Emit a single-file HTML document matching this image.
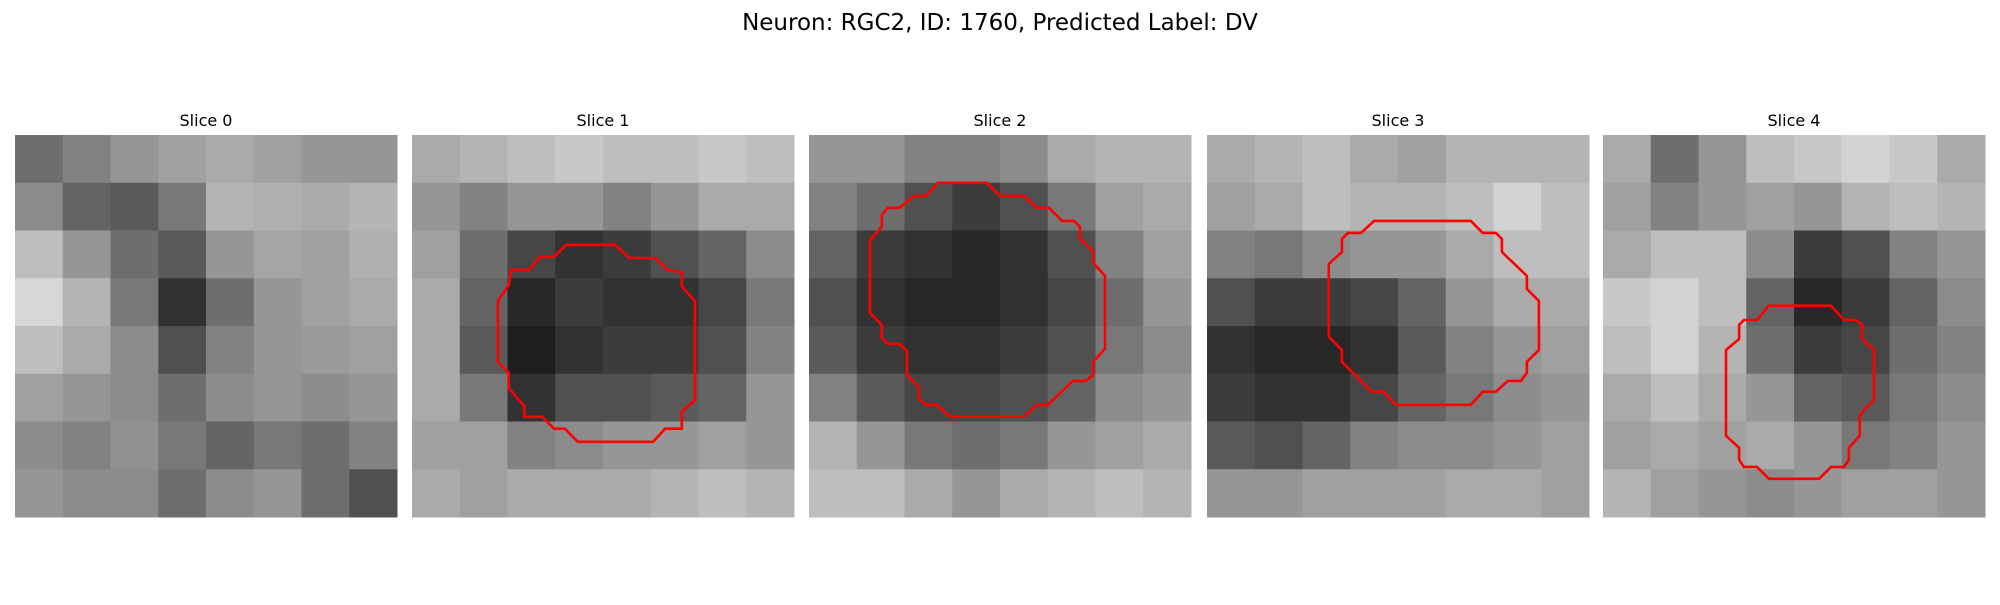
<!DOCTYPE html>
<html><head><meta charset="utf-8">
<style>
html,body{margin:0;padding:0;background:#fff;}
body{width:2000px;height:600px;overflow:hidden;font-family:"Liberation Sans","DejaVu Sans",sans-serif;}
</style></head>
<body>
<svg id="fig" width="2000" height="600" viewBox="0 0 2000 600" xmlns="http://www.w3.org/2000/svg">
<rect width="2000" height="600" fill="#fff"/>
<text x="1000" y="30" text-anchor="middle" font-family="DejaVu Sans, Liberation Sans, sans-serif" font-size="23" fill="#000">Neuron: RGC2, ID: 1760, Predicted Label: DV</text>
</svg>
<script>
const sliceTitles = ["Slice 0","Slice 1","Slice 2","Slice 3","Slice 4"];
const grid0 = [
[110,130,150,160,170,160,150,150],
[140,100,90,120,180,175,170,180],
[190,150,110,90,150,165,160,175],
[215,180,120,50,110,150,160,170],
[190,170,140,80,130,150,155,160],
[160,150,140,110,140,150,140,150],
[140,130,145,120,100,120,110,130],
[150,140,140,110,140,150,110,80]];
const grid1 = [
[170,180,190,200,190,190,200,190],
[150,130,150,150,130,150,170,170],
[160,110,70,50,60,80,100,140],
[170,100,40,60,50,50,70,120],
[170,90,30,50,60,60,80,130],
[170,120,50,80,80,90,100,150],
[160,160,130,140,150,150,160,150],
[170,160,170,170,170,180,190,180]];
const grid2 = [
[150,150,130,130,140,170,180,180],
[130,110,80,60,80,120,160,170],
[100,60,50,40,50,80,130,160],
[80,50,40,40,50,70,110,150],
[90,60,50,50,60,80,120,140],
[130,90,70,70,80,100,140,150],
[180,150,120,110,120,150,160,170],
[190,190,170,150,170,180,190,180]];
const grid3 = [
[170,180,190,170,160,180,180,180],
[160,170,190,180,180,190,210,190],
[130,120,140,150,150,170,190,190],
[80,60,60,70,100,150,170,170],
[50,40,40,50,90,130,150,160],
[60,50,50,70,100,120,140,150],
[90,80,100,130,140,140,150,160],
[150,150,160,160,160,170,170,160]];
const grid4 = [
[170,110,150,190,200,210,200,170],
[160,130,150,160,150,180,190,180],
[170,190,190,140,60,80,130,150],
[200,210,190,100,40,60,100,140],
[190,210,180,110,60,70,110,130],
[170,190,170,150,100,90,120,140],
[160,170,160,170,150,120,130,150],
[180,160,150,140,150,160,160,150]];
const grids = [grid0,grid1,grid2,grid3,grid4];
// contours in pixel (cell) units on a 32x32 image
const contour1 = [[7.2,13.9],[7.2,19],[8.1,19.9],[8.1,21.2],[9.4,22.7],[9.4,23.6],[10.9,23.6],[11.9,24.6],[12.8,24.6],[13.9,25.7],[20.2,25.7],[21.2,24.6],[22.6,24.6],[22.6,23.2],[23.7,22.2],[23.7,13.9],[22.6,12.7],[22.6,11.5],[21.4,11.3],[20.4,10.3],[18.2,10.3],[17,9.2],[12.9,9.2],[11.9,10.2],[10.7,10.2],[9.8,11.3],[8.3,11.3],[8.1,12.6]];
const contour2 = [[5.1,8.8],[5.1,14.9],[6.1,15.9],[6.1,17.0],[6.6,17.5],[7.6,17.5],[8.2,18.1],[8.2,20.1],[9.2,21.1],[9.2,22.1],[9.8,22.6],[10.7,22.6],[11.8,23.6],[18.0,23.6],[19.1,22.6],[20.0,22.6],[22.1,20.6],[23.2,20.6],[23.8,20.1],[23.8,19.0],[24.8,17.9],[24.8,11.8],[23.8,10.7],[23.8,9.7],[22.7,8.7],[22.7,7.7],[22.2,7.2],[21.2,7.2],[20.1,6.1],[19.1,6.1],[18.0,5.1],[16.0,5.1],[14.9,4.0],[10.8,4.0],[9.8,5.1],[8.8,5.1],[7.6,6.1],[6.6,6.1],[6.1,6.7],[6.1,7.7]];
const contour3 = [[10.2,10.8],[10.2,16.9],[11.3,18],[11.3,19],[13.8,21.5],[14.8,21.5],[15.8,22.6],[22.1,22.6],[23.1,21.5],[24.2,21.5],[25.2,20.6],[26.3,20.6],[26.8,19.9],[26.8,19],[27.8,18],[27.8,13.9],[26.8,12.9],[26.8,11.8],[24.7,9.8],[24.7,8.7],[24.2,8.2],[23.1,8.2],[22.1,7.2],[14,7.2],[12.9,8.2],[11.8,8.2],[11.3,8.7],[11.3,9.8]];
const contour4 = [[10.3,18],[10.3,25.2],[11.4,26.2],[11.4,27.2],[11.8,27.8],[12.9,27.8],[13.9,28.8],[18.1,28.8],[19.1,27.8],[20.2,27.8],[20.6,27.2],[20.6,26.2],[21.5,25.2],[21.5,23.6],[21.8,23.1],[22.7,22.2],[22.7,18],[21.7,17.1],[21.7,15.9],[21.2,15.5],[20.2,15.5],[19.1,14.3],[13.9,14.3],[12.9,15.5],[11.8,15.5],[11.4,15.9],[11.4,17.1]];
const contours = [null,contour1,contour2,contour3,contour4];

const NS = "http://www.w3.org/2000/svg";
const svg = document.getElementById('fig');
const panelLeft = [15,412,809,1207,1603];
const panelTop = 135, panelSize = 382, imgPx = 32;
function sx(i,v){return panelLeft[i] + v/imgPx*panelSize;}
function sy(v){return panelTop + v/imgPx*panelSize;}

grids.forEach((g,i)=>{
  const grp = document.createElementNS(NS,'g');
  
  
  svg.appendChild(grp);
  const n = g.length, step = imgPx/n;
  g.forEach((row,r)=>row.forEach((v,c)=>{
    const rc = document.createElementNS(NS,'rect');
    
    
    const x0 = sx(i,c*step), x1 = sx(i,(c+1)*step), y0 = sy(r*step), y1 = sy((r+1)*step);
    rc.setAttribute('x', x0); rc.setAttribute('y', y0);
    rc.setAttribute('width', x1-x0+0.5); rc.setAttribute('height', y1-y0+0.5);
    rc.setAttribute('fill', `rgb(${v},${v},${v})`);
    grp.appendChild(rc);
  }));
  const t = document.createElementNS(NS,'text');
  
  
  t.setAttribute('x', panelLeft[i] + panelSize/2);
  t.setAttribute('y', 126);
  t.setAttribute('text-anchor','middle');
  t.setAttribute('font-size','16');
  t.setAttribute('font-family','DejaVu Sans, Liberation Sans, sans-serif');
  t.textContent = sliceTitles[i];
  grp.appendChild(t);
  const ct = contours[i];
  if (ct) {
    const p = document.createElementNS(NS,'polygon');
    
    
    p.setAttribute('points', ct.map(q=>sx(i,q[0]).toFixed(1)+','+sy(q[1]).toFixed(1)).join(' '));
    p.setAttribute('fill','none'); p.setAttribute('stroke','#ff0000'); p.setAttribute('stroke-width','2.6');
    grp.appendChild(p);
  }
});
</script>
</body></html>
